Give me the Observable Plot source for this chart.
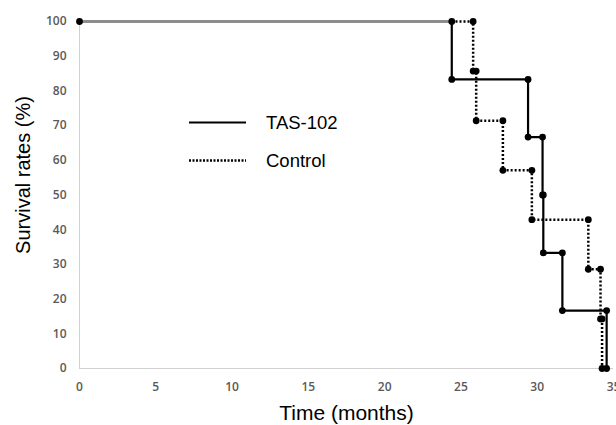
<!DOCTYPE html>
<html>
<head>
<meta charset="utf-8">
<script src="https://cdn.jsdelivr.net/npm/d3@7"></script>
<script src="https://cdn.jsdelivr.net/npm/@observablehq/plot@0.6"></script>
<style>
  html, body { margin: 0; padding: 0; background: #fff; }
  #wrap { position: relative; width: 616px; height: 425px; }
  #legend { position: absolute; left: 0; top: 0; pointer-events: none; }
</style>
</head>
<body>
<div id="wrap"></div>
<script>
// Kaplan–Meier steps
const tasTime = [0, 24.4, 29.4, 30.35, 30.4, 31.65, 34.55];
const tasSurv = [100, 83.3, 66.7, 50, 33.3, 16.7, 0];
const ctlTime = [0, 25.8, 26.0, 27.75, 29.65, 33.35, 34.15, 34.25];
const ctlSurv = [100, 85.7, 71.4, 57.1, 42.9, 28.6, 14.3, 0];
const xTicks = [0, 5, 10, 15, 20, 25, 30, 35];
const yTicks = [0, 10, 20, 30, 40, 50, 60, 70, 80, 90, 100];
const seriesNames = ["TAS-102", "Control"];

const steps = (T, S) => T.map((t, i) => ({t, s: S[i]}));
const corners = (T, S) => {
  const out = [];
  for (let i = 1; i < T.length; i++) {
    out.push({t: T[i], s: S[i - 1]});
    out.push({t: T[i], s: S[i]});
  }
  return out;
};
const tas = steps(tasTime, tasSurv);
const ctl = steps(ctlTime, ctlSurv);
const tasPts = [{t: tasTime[0], s: tasSurv[0]}, ...corners(tasTime, tasSurv)];
const ctlPts = corners(ctlTime, ctlSurv);
const shared = [{t: tasTime[0], s: tasSurv[0]}, {t: tasTime[1], s: tasSurv[0]}];

const tickFont = "'Open Sans', sans-serif";
const titleFont = "'Liberation Sans', Arial, sans-serif";

const chart = Plot.plot({
  width: 616,
  height: 425,
  marginLeft: 79,
  marginRight: 3,
  marginTop: 21,
  marginBottom: 57,
  style: {background: "#fff"},
  x: {domain: [0, 35]},
  y: {domain: [0, 100]},
  marks: [
    Plot.ruleX([0], {stroke: "#d0d0d0", strokeWidth: 1}),
    Plot.ruleY([0], {stroke: "#d0d0d0", strokeWidth: 1}),
    Plot.axisX({ticks: xTicks, tickSize: 0, tickPadding: 14, label: null,
      fontSize: 12, fontWeight: 600, fill: "#595959", fontFamily: tickFont}),
    Plot.axisY({ticks: yTicks, tickSize: 0, tickPadding: 13, label: null,
      fontSize: 12, fontWeight: 600, fill: "#595959", fontFamily: tickFont}),
    Plot.line(ctl, {x: "t", y: "s", curve: "step-after", stroke: "#000",
      strokeWidth: 2.5, strokeDasharray: "2,2", strokeLinecap: "butt", strokeLinejoin: "miter"}),
    Plot.line(tas, {x: "t", y: "s", curve: "step-after", stroke: "#000", strokeWidth: 2.2}),
    Plot.line(shared, {x: "t", y: "s", stroke: "#8c8c8c", strokeWidth: 2.8, strokeLinecap: "butt"}),
    Plot.dot(ctlPts, {x: "t", y: "s", r: 3.4, fill: "#000"}),
    Plot.dot(tasPts, {x: "t", y: "s", r: 3.4, fill: "#000"}),
    Plot.text(["Time (months)"], {frameAnchor: "bottom", textAnchor: "middle", lineAnchor: "middle",
      dy: 45, fontSize: 21, fontFamily: titleFont, fill: "#000"}),
    Plot.text(["Survival rates (%)"], {frameAnchor: "left", textAnchor: "middle", lineAnchor: "middle",
      dx: -56, dy: -20, rotate: -90, fontSize: 20, fontFamily: titleFont, fill: "#000"})
  ]
});
const wrap = document.getElementById("wrap");
wrap.appendChild(chart);

// legend overlay
const ns = "http://www.w3.org/2000/svg";
const leg = document.createElementNS(ns, "svg");
leg.setAttribute("id", "legend");
leg.setAttribute("width", 616);
leg.setAttribute("height", 425);
const rows = [
  {name: seriesNames[0], y: 122.5, dash: null, w: 2.2},
  {name: seriesNames[1], y: 160.5, dash: "2,1.5", w: 2.5}
];
rows.forEach(r => {
  const l = document.createElementNS(ns, "line");
  l.setAttribute("x1", 189); l.setAttribute("x2", 246);
  l.setAttribute("y1", r.y); l.setAttribute("y2", r.y);
  l.setAttribute("stroke", "#000"); l.setAttribute("stroke-width", r.w);
  if (r.dash) l.setAttribute("stroke-dasharray", r.dash);
  leg.appendChild(l);
  const t = document.createElementNS(ns, "text");
  t.setAttribute("x", 266); t.setAttribute("y", r.y);
  t.setAttribute("dy", "0.35em");
  t.setAttribute("font-family", titleFont);
  t.setAttribute("font-size", 18.5);
  t.setAttribute("fill", "#000");
  t.textContent = r.name;
  leg.appendChild(t);
});
wrap.appendChild(leg);
</script>
</body>
</html>
